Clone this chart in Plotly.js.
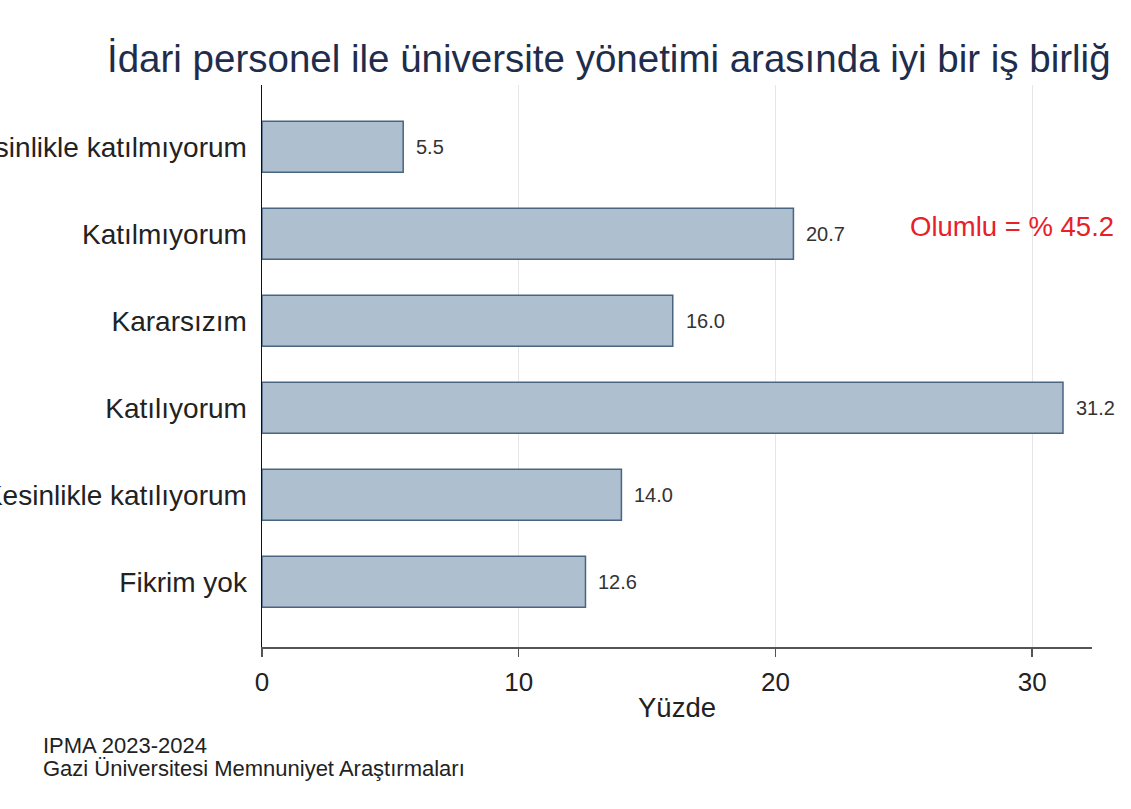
<!DOCTYPE html>
<html>
<head>
<meta charset="utf-8">
<script src="https://cdn.plot.ly/plotly-3.0.1.min.js"></script>
<style>html,body{margin:0;padding:0;background:#fff;}#chart{width:1131px;height:809px;}</style>
</head>
<body>
<div id="chart"></div>
<script>
const categories = ["Kesinlikle katılmıyorum", "Katılmıyorum", "Kararsızım", "Katılıyorum", "Kesinlikle katılıyorum", "Fikrim yok"];
const values = [5.5, 20.7, 16.0, 31.2, 14.0, 12.6];
const valueLabels = values.map(v => v.toFixed(1));
const xTickVals = [0, 10, 20, 30];
const titleText = "İdari personel ile üniversite yönetimi arasında iyi bir iş birliğ";
const noteText = "Olumlu = % 45.2";
const sourceLines = ["IPMA 2023-2024", "Gazi Üniversitesi Memnuniyet Araştırmaları"];

const font = "\"Liberation Sans\", Arial, sans-serif";

const trace = {
  type: "bar",
  orientation: "h",
  x: values,
  y: categories,
  marker: {color: "#aebfd0", line: {color: "#4a6580", width: 1.5}},
  width: 0.585,
  hoverinfo: "none"
};

const valueAnnotations = categories.map((c, i) => ({
  text: valueLabels[i], x: values[i], y: c, xref: "x", yref: "y",
  xanchor: "left", yanchor: "middle", xshift: 11, showarrow: false,
  font: {family: font, size: 20, color: "#333333"}
}));

const layout = {
  width: 1131, height: 809,
  margin: {l: 262, r: 39, t: 85, b: 162, autoexpand: false},
  paper_bgcolor: "#ffffff", plot_bgcolor: "#ffffff",
  font: {family: font, color: "#222222"},
  showlegend: false,
  title: {text: titleText, x: 107/1131, xanchor: "left", xref: "container", y: 1 - 59/809, yanchor: "middle", yref: "container",
          font: {family: font, size: 38.5, color: "#1f2d4d"}},
  xaxis: {
    range: [0, 32.33], tickvals: xTickVals, ticktext: xTickVals.map(String),
    showgrid: true, gridcolor: "#e6e6e6", gridwidth: 1,
    zeroline: false, showline: true, linecolor: "#555555", linewidth: 2,
    ticks: "outside", ticklen: 8, tickcolor: "#555555", tickwidth: 1.5,
    ticklabelstandoff: 3,
    tickfont: {family: font, size: 26, color: "#222222"}, automargin: false,
    title: {text: "Yüzde", font: {family: font, size: 27.5, color: "#222222"}, standoff: 2}
  },
  yaxis: {
    type: "category", range: [5.75, -0.71], automargin: false,
    showgrid: false, zeroline: false, showline: true, linecolor: "#111111", linewidth: 1.5,
    ticks: "", ticklabelstandoff: 8,
    tickfont: {family: font, size: 28, color: "#222222"}
  },
  annotations: valueAnnotations.concat([
    {text: noteText, xref: "paper", yref: "paper", x: (1116-262)/830, y: (647-226)/562, xanchor: "right", yanchor: "middle",
     showarrow: false, font: {family: font, size: 27.5, color: "#e8202a"}},
    {text: sourceLines[0], xref: "paper", yref: "paper", x: (41-262)/830, y: -(745-647)/562, xanchor: "left", yanchor: "middle",
     showarrow: false, font: {family: font, size: 22, color: "#222222"}},
    {text: sourceLines[1], xref: "paper", yref: "paper", x: (41-262)/830, y: -(768-647)/562, xanchor: "left", yanchor: "middle",
     showarrow: false, font: {family: font, size: 22, color: "#222222"}}
  ])
};

Plotly.newPlot("chart", [trace], layout, {displayModeBar: false, staticPlot: true});
</script>
</body>
</html>
